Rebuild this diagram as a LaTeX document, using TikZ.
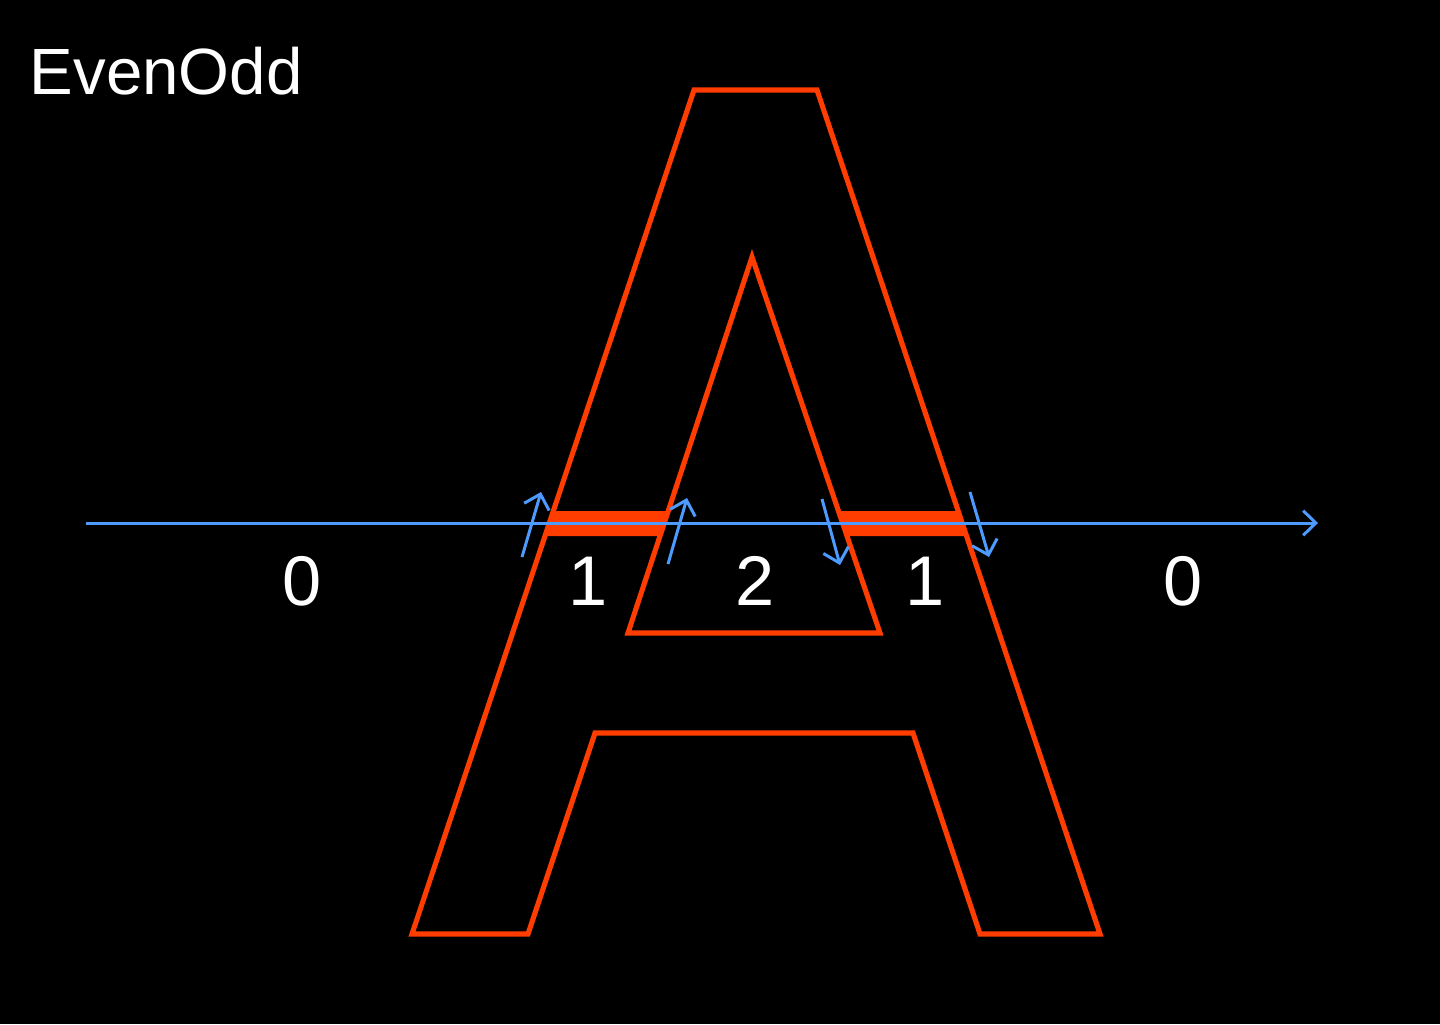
\documentclass[tikz,border=0pt]{standalone}
\usepackage{fontspec}
\setmainfont{Liberation Sans}
\usepackage{tikz}
\usetikzlibrary{arrows.meta, positioning, calc}
\definecolor{glyphred}{HTML}{FF3D00}
\definecolor{rayblue}{HTML}{4D9BFF}

\begin{document}
\begin{tikzpicture}[
    x=0.01cm, y=-0.01cm,
    outline/.style={line width=1.45pt, glyphred, line join=miter},
    ray/.style={line width=0.85pt, rayblue, -{Straight Barb[length=3.6pt, width=7pt, line width=0.85pt]}},
    tick/.style={line width=0.85pt, rayblue, -{Straight Barb[length=3.8pt, width=7.4pt, line width=0.85pt]}},
    count/.style={font=\fontsize{20}{24}\selectfont, text=white, anchor=base},
]
    \fill[black] (0,0) rectangle (1440,1024);

    \node[font=\fontsize{18.6}{22}\selectfont, text=white, anchor=base west, inner sep=0pt] (title) at (29,94) {EvenOdd};

    % outer contour of the A
    \draw[outline] (694,90) -- (817,90) -- (1100,934) -- (980,934) -- (913,733)
        -- (595,733) -- (528,934) -- (412,934) -- cycle;
    % inner counter
    \draw[outline] (752,257) -- (880,633) -- (628,633) -- cycle;

    % crossed segments
    \fill[glyphred] (553,511) -- (668,511) -- (660,536) -- (545,536) -- cycle;
    \fill[glyphred] (838,511) -- (958,511) -- (966,536) -- (846,536) -- cycle;

    % the ray
    \coordinate (rayA) at (86,523);
    \coordinate (rayB) at (1318,523);
    \draw[ray] (rayA) -- (rayB);

    % edge directions
    \coordinate (t1a) at (522,557); \coordinate (t1b) at (541,492);
    \coordinate (t2a) at (668,564); \coordinate (t2b) at (687,498);
    \coordinate (t3a) at (822,499); \coordinate (t3b) at (840,565);
    \coordinate (t4a) at (970,492); \coordinate (t4b) at (989,557);
    \draw[tick] (t1a) -- (t1b);
    \draw[tick] (t2a) -- (t2b);
    \draw[tick] (t3a) -- (t3b);
    \draw[tick] (t4a) -- (t4b);

    % winding counts
    \node[count] (c0) at (302,605) {0};
    \node[count] (c1) at (588,605) {1};
    \node[count] (c2) at (755,605) {2};
    \node[count] (c3) at (925,605) {1};
    \node[count] (c4) at (1183,605) {0};
\end{tikzpicture}
\end{document}
